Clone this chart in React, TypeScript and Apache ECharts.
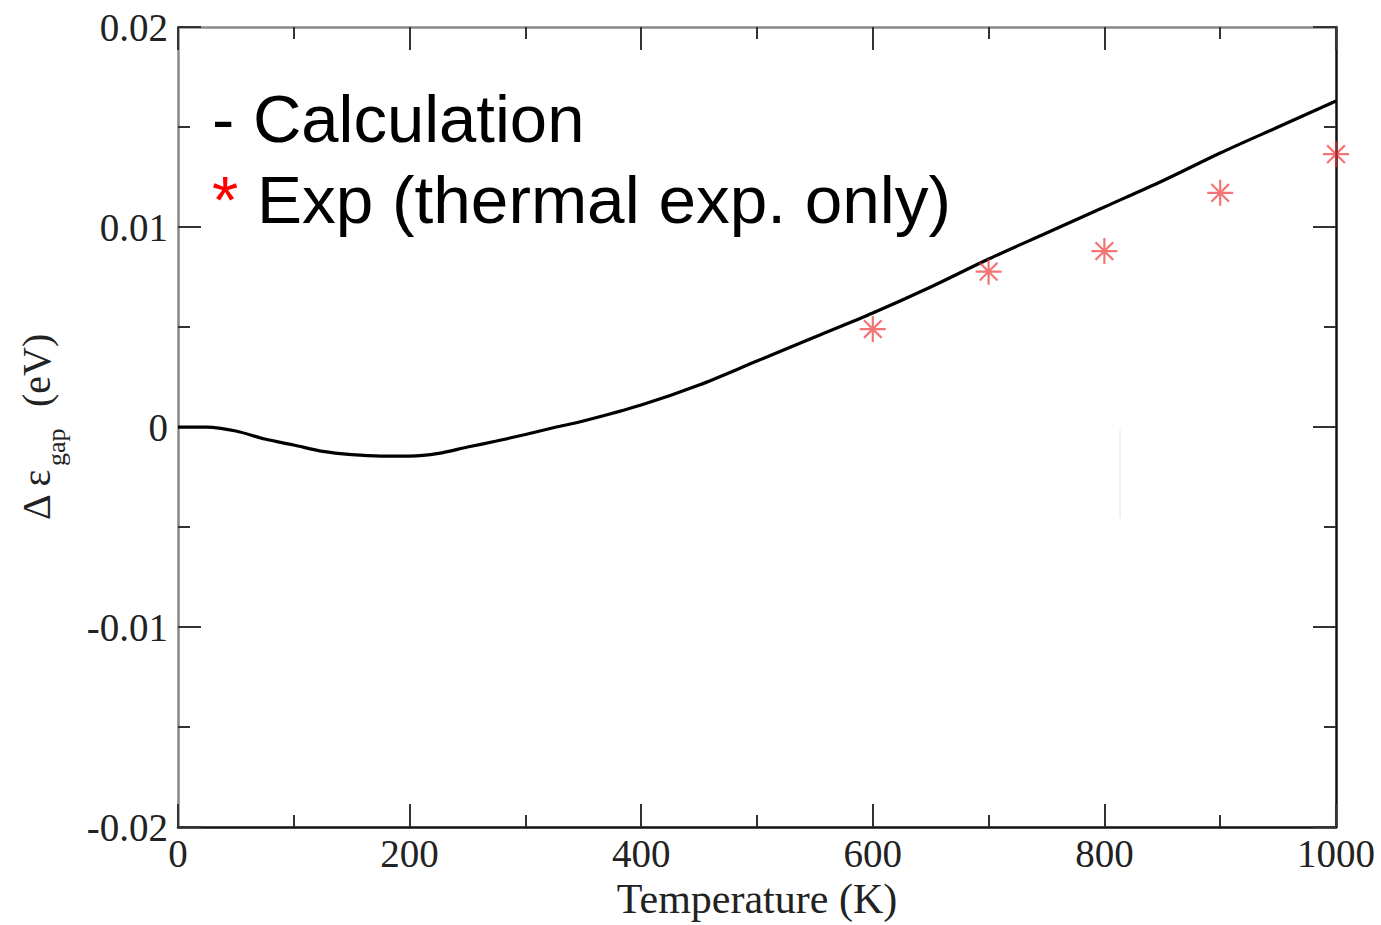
import React, { useEffect, useRef } from "react";
import * as echarts from "echarts";

const calcT = [0, 25, 50, 75, 100, 125, 150, 175, 200, 225, 250, 275, 300, 325, 350, 400, 450, 500, 550, 600, 650, 700, 750, 800, 850, 900, 950, 1000];
const calcGap = [0, 0, -0.0002, -0.0006, -0.0009, -0.00122, -0.00138, -0.00145, -0.00145, -0.00132, -0.001, -0.0007, -0.00037, -0.00002, 0.0003, 0.0011, 0.0021, 0.0033, 0.0045, 0.0057, 0.007, 0.0084, 0.0097, 0.011, 0.0123, 0.0137, 0.015, 0.0163];
const expT = [600, 700, 800, 900, 1000];
const expGap = [0.0049, 0.00777, 0.0088, 0.01171, 0.01364];

const xTicks = { min: 0, max: 1000, interval: 200 };
const yTicks = { min: -0.02, max: 0.02, interval: 0.01 };

const legendCalc = "- Calculation";
const legendExpStar = "*";
const legendExp = " Exp (thermal exp. only)";
const xTitle = "Temperature (K)";

const STAR = "path://M50 0 L50 100 M0 50 L100 50 M16 16 L84 84 M84 16 L16 84";

export default function App() {
  const ref = useRef<HTMLDivElement>(null);
  useEffect(() => {
    if (!ref.current) return;
    const chart = echarts.init(ref.current, undefined, { renderer: "svg" });
    const serif = "'Liberation Serif', 'DejaVu Serif', serif";
    const sans = "'Liberation Sans', Arial, sans-serif";
    const tickCommon = (lineColor: string, labels: boolean, isX: boolean) => ({
      axisLine: { show: true, onZero: false, lineStyle: { color: lineColor, width: 2.5 } },
      axisTick: { show: true, inside: true, length: 23, lineStyle: { color: "#333", width: 2 } },
      minorTick: { show: true, splitNumber: 2, length: 12, lineStyle: { color: "#333", width: 2 } },
      splitLine: { show: false },
      minorSplitLine: { show: false },
      axisLabel: {
        show: labels,
        fontFamily: serif,
        fontSize: 39,
        color: "#222",
        margin: isX ? 7 : 10,
        formatter: (v: number) => String(Math.round(v * 1000) / 1000),
      },
    });
    chart.setOption({
      animation: false,
      backgroundColor: "#fff",
      grid: { left: 178, right: 45, top: 27, bottom: 90, containLabel: false },
      xAxis: [
        {
          type: "value",
          position: "bottom",
          ...xTicks,
          ...tickCommon("#111", true, true),
          name: xTitle,
          nameLocation: "middle",
          nameGap: 46,
          nameTextStyle: { fontFamily: serif, fontSize: 42, color: "#222" },
        },
        {
          type: "value",
          position: "top",
          ...xTicks,
          ...tickCommon("#888", false, true),
        },
      ],
      yAxis: [
        {
          type: "value",
          position: "left",
          ...yTicks,
          ...tickCommon("#888", true, false),
        },
        {
          type: "value",
          position: "right",
          ...yTicks,
          ...tickCommon("#111", false, false),
        },
      ],
      series: [
        {
          type: "line",
          name: "Calculation",
          data: calcT.map((t, i) => [t, calcGap[i]]),
          showSymbol: false,
          smooth: 0.3,
          lineStyle: { color: "#000", width: 3.2 },
          z: 3,
        },
        {
          type: "scatter",
          name: "Exp (thermal exp. only)",
          data: expT.map((t, i) => [t, expGap[i]]),
          symbol: STAR,
          symbolSize: 26,
          itemStyle: { color: "rgba(0,0,0,0)", borderColor: "rgba(238,50,50,0.85)", borderWidth: 2.2 },
          z: 4,
        },
      ],
      graphic: [
        {
          type: "text",
          x: 212,
          y: 118,
          style: { text: legendCalc, fontFamily: sans, fontSize: 67, fill: "#000", verticalAlign: "middle", align: "left" },
        },
        {
          type: "text",
          x: 212,
          y: 199,
          style: {
            text: "{r|" + legendExpStar + "}{k|" + legendExp + "}",
            verticalAlign: "middle",
            align: "left",
            rich: {
              r: { fontFamily: sans, fontSize: 67.5, fill: "#f00", color: "#f00" },
              k: { fontFamily: sans, fontSize: 67.5, fill: "#000", color: "#000" },
            },
          },
        },
        {
          type: "group",
          x: 36,
          y: 520,
          rotation: Math.PI / 2,
          children: [
            { type: "text", x: 0, y: 0, style: { text: "Δ ε", fontFamily: serif, fontSize: 40, fill: "#222", verticalAlign: "middle", align: "left" } },
            { type: "text", x: 54, y: 20, style: { text: "gap", fontFamily: serif, fontSize: 26, fill: "#222", verticalAlign: "middle", align: "left" } },
            { type: "text", x: 113, y: 0, style: { text: "(eV)", fontFamily: serif, fontSize: 40, fill: "#222", verticalAlign: "middle", align: "left" } },
          ],
        },
        {
          type: "line",
          shape: { x1: 1120, y1: 430, x2: 1120, y2: 518 },
          style: { stroke: "#e2e2e2", lineWidth: 1 },
        },
      ],
    });
    return () => chart.dispose();
  }, []);
  return <div ref={ref} style={{ position: "fixed", left: 0, top: 0, width: 1381, height: 925 }} />;
}
